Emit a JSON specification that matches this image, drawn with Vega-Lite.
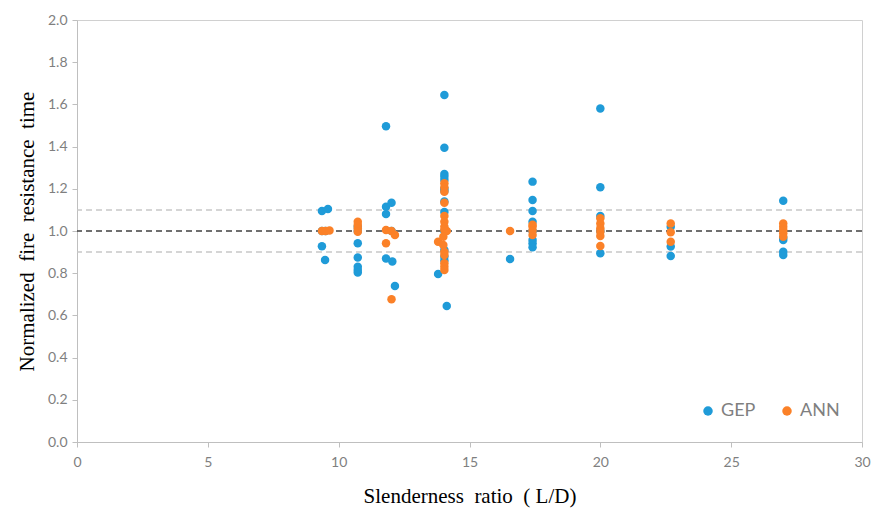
{
  "$schema": "https://vega.github.io/schema/vega-lite/v6.json",
  "width": 785,
  "height": 422,
  "autosize": {"type": "none"},
  "padding": {"left": 77, "top": 20, "right": 13, "bottom": 66},
  "background": "white",
  "config": {
    "view": {"stroke": "#d0d0d0", "strokeWidth": 1},
    "axis": {
      "grid": false,
      "domainColor": "#bfbfbf",
      "tickColor": "#bfbfbf",
      "tickSize": 5,
      "labelFont": "Lato",
      "labelFontSize": 14,
      "labelColor": "#7f7f7f",
      "labelFlush": false,
      "titleFont": "Liberation Serif",
      "titleFontSize": 21,
      "titleFontWeight": "normal",
      "titleColor": "#000000"
    }
  },
  "datasets": {
    "pts": [
      {"ld": 9.36, "ratio": 1.095, "model": "GEP"},
      {"ld": 9.59, "ratio": 1.104, "model": "GEP"},
      {"ld": 9.36, "ratio": 1.0, "model": "GEP"},
      {"ld": 9.5, "ratio": 1.0, "model": "GEP"},
      {"ld": 9.36, "ratio": 0.928, "model": "GEP"},
      {"ld": 9.48, "ratio": 0.862, "model": "GEP"},
      {"ld": 10.73, "ratio": 1.02, "model": "GEP"},
      {"ld": 10.73, "ratio": 1.0, "model": "GEP"},
      {"ld": 10.73, "ratio": 0.942, "model": "GEP"},
      {"ld": 10.73, "ratio": 0.874, "model": "GEP"},
      {"ld": 10.73, "ratio": 0.831, "model": "GEP"},
      {"ld": 10.73, "ratio": 0.815, "model": "GEP"},
      {"ld": 10.73, "ratio": 0.803, "model": "GEP"},
      {"ld": 11.81, "ratio": 1.497, "model": "GEP"},
      {"ld": 11.81, "ratio": 1.115, "model": "GEP"},
      {"ld": 11.81, "ratio": 1.08, "model": "GEP"},
      {"ld": 11.81, "ratio": 0.87, "model": "GEP"},
      {"ld": 12.02, "ratio": 1.134, "model": "GEP"},
      {"ld": 12.02, "ratio": 1.0, "model": "GEP"},
      {"ld": 12.05, "ratio": 0.855, "model": "GEP"},
      {"ld": 12.15, "ratio": 0.739, "model": "GEP"},
      {"ld": 13.8, "ratio": 0.796, "model": "GEP"},
      {"ld": 14.04, "ratio": 1.645, "model": "GEP"},
      {"ld": 14.04, "ratio": 1.395, "model": "GEP"},
      {"ld": 14.04, "ratio": 1.27, "model": "GEP"},
      {"ld": 14.04, "ratio": 1.257, "model": "GEP"},
      {"ld": 14.04, "ratio": 1.242, "model": "GEP"},
      {"ld": 14.04, "ratio": 1.2, "model": "GEP"},
      {"ld": 14.04, "ratio": 1.19, "model": "GEP"},
      {"ld": 14.04, "ratio": 1.14, "model": "GEP"},
      {"ld": 14.04, "ratio": 1.09, "model": "GEP"},
      {"ld": 14.04, "ratio": 1.0, "model": "GEP"},
      {"ld": 14.04, "ratio": 0.91, "model": "GEP"},
      {"ld": 14.04, "ratio": 0.878, "model": "GEP"},
      {"ld": 14.04, "ratio": 0.86, "model": "GEP"},
      {"ld": 14.13, "ratio": 0.645, "model": "GEP"},
      {"ld": 16.55, "ratio": 0.867, "model": "GEP"},
      {"ld": 17.41, "ratio": 1.234, "model": "GEP"},
      {"ld": 17.41, "ratio": 1.147, "model": "GEP"},
      {"ld": 17.41, "ratio": 1.095, "model": "GEP"},
      {"ld": 17.41, "ratio": 1.044, "model": "GEP"},
      {"ld": 17.41, "ratio": 1.0, "model": "GEP"},
      {"ld": 17.41, "ratio": 0.957, "model": "GEP"},
      {"ld": 17.41, "ratio": 0.942, "model": "GEP"},
      {"ld": 17.41, "ratio": 0.923, "model": "GEP"},
      {"ld": 20.0, "ratio": 1.581, "model": "GEP"},
      {"ld": 20.0, "ratio": 1.207, "model": "GEP"},
      {"ld": 20.0, "ratio": 1.071, "model": "GEP"},
      {"ld": 20.0, "ratio": 1.0, "model": "GEP"},
      {"ld": 20.0, "ratio": 0.894, "model": "GEP"},
      {"ld": 22.69, "ratio": 1.02, "model": "GEP"},
      {"ld": 22.69, "ratio": 0.926, "model": "GEP"},
      {"ld": 22.69, "ratio": 0.882, "model": "GEP"},
      {"ld": 26.99, "ratio": 1.143, "model": "GEP"},
      {"ld": 26.99, "ratio": 0.968, "model": "GEP"},
      {"ld": 26.99, "ratio": 0.957, "model": "GEP"},
      {"ld": 26.99, "ratio": 0.902, "model": "GEP"},
      {"ld": 26.99, "ratio": 0.886, "model": "GEP"},
      {"ld": 9.36, "ratio": 1.0, "model": "ANN"},
      {"ld": 9.5, "ratio": 1.0, "model": "ANN"},
      {"ld": 9.65, "ratio": 1.002, "model": "ANN"},
      {"ld": 10.73, "ratio": 1.044, "model": "ANN"},
      {"ld": 10.73, "ratio": 1.028, "model": "ANN"},
      {"ld": 10.73, "ratio": 1.013, "model": "ANN"},
      {"ld": 10.73, "ratio": 0.997, "model": "ANN"},
      {"ld": 11.81, "ratio": 1.005, "model": "ANN"},
      {"ld": 11.81, "ratio": 0.942, "model": "ANN"},
      {"ld": 12.02, "ratio": 1.0, "model": "ANN"},
      {"ld": 12.02, "ratio": 0.676, "model": "ANN"},
      {"ld": 12.15, "ratio": 0.981, "model": "ANN"},
      {"ld": 13.8, "ratio": 0.949, "model": "ANN"},
      {"ld": 14.04, "ratio": 1.226, "model": "ANN"},
      {"ld": 14.04, "ratio": 1.207, "model": "ANN"},
      {"ld": 14.04, "ratio": 1.186, "model": "ANN"},
      {"ld": 14.04, "ratio": 1.134, "model": "ANN"},
      {"ld": 14.04, "ratio": 1.071, "model": "ANN"},
      {"ld": 14.04, "ratio": 1.044, "model": "ANN"},
      {"ld": 14.04, "ratio": 1.02, "model": "ANN"},
      {"ld": 14.04, "ratio": 1.005, "model": "ANN"},
      {"ld": 14.13, "ratio": 1.0, "model": "ANN"},
      {"ld": 14.0, "ratio": 0.973, "model": "ANN"},
      {"ld": 14.0, "ratio": 0.934, "model": "ANN"},
      {"ld": 14.04, "ratio": 0.902, "model": "ANN"},
      {"ld": 14.04, "ratio": 0.886, "model": "ANN"},
      {"ld": 14.04, "ratio": 0.847, "model": "ANN"},
      {"ld": 14.04, "ratio": 0.831, "model": "ANN"},
      {"ld": 14.04, "ratio": 0.815, "model": "ANN"},
      {"ld": 16.55, "ratio": 1.0, "model": "ANN"},
      {"ld": 17.41, "ratio": 1.03, "model": "ANN"},
      {"ld": 17.41, "ratio": 1.02, "model": "ANN"},
      {"ld": 17.41, "ratio": 1.001, "model": "ANN"},
      {"ld": 17.41, "ratio": 0.981, "model": "ANN"},
      {"ld": 20.0, "ratio": 1.06, "model": "ANN"},
      {"ld": 20.0, "ratio": 1.036, "model": "ANN"},
      {"ld": 20.0, "ratio": 1.013, "model": "ANN"},
      {"ld": 20.0, "ratio": 0.997, "model": "ANN"},
      {"ld": 20.0, "ratio": 0.976, "model": "ANN"},
      {"ld": 20.0, "ratio": 0.929, "model": "ANN"},
      {"ld": 22.69, "ratio": 1.036, "model": "ANN"},
      {"ld": 22.69, "ratio": 0.994, "model": "ANN"},
      {"ld": 22.69, "ratio": 0.949, "model": "ANN"},
      {"ld": 26.99, "ratio": 1.036, "model": "ANN"},
      {"ld": 26.99, "ratio": 1.02, "model": "ANN"},
      {"ld": 26.99, "ratio": 1.005, "model": "ANN"},
      {"ld": 26.99, "ratio": 0.989, "model": "ANN"},
      {"ld": 26.99, "ratio": 0.973, "model": "ANN"}
    ],
    "bands": [{"ratio": 1.1}, {"ratio": 0.9}],
    "mid": [{"ratio": 1.0}]
  },
  "layer": [
    {
      "data": {"name": "bands"},
      "mark": {"type": "rule", "stroke": "#c8c8c8", "strokeWidth": 1.5, "strokeDash": [6, 4]},
      "encoding": {
        "y": {"field": "ratio", "type": "quantitative", "scale": {"domain": [0, 2]}}
      }
    },
    {
      "data": {"name": "mid"},
      "mark": {"type": "rule", "stroke": "#404040", "strokeWidth": 1.5, "strokeDash": [6, 4]},
      "encoding": {
        "y": {"field": "ratio", "type": "quantitative"}
      }
    },
    {
      "data": {"name": "pts"},
      "mark": {"type": "point", "shape": "circle", "filled": true, "opacity": 1, "size": 72},
      "encoding": {
        "x": {
          "field": "ld", "type": "quantitative",
          "scale": {"domain": [0, 30], "nice": false, "zero": true},
          "axis": {"values": [0, 5, 10, 15, 20, 25, 30], "title": "Slenderness\u00a0 ratio\u00a0 ( L/D)", "labelPadding": 8, "titlePadding": 16}
        },
        "y": {
          "field": "ratio", "type": "quantitative",
          "scale": {"domain": [0, 2], "nice": false},
          "axis": {"values": [0, 0.2, 0.4, 0.6, 0.8, 1.0, 1.2, 1.4, 1.6, 1.8, 2.0], "format": ".1f", "title": "Normalized\u00a0 fire\u00a0 resistance\u00a0 time", "labelPadding": 5, "titlePadding": 10}
        },
        "color": {
          "field": "model", "type": "nominal",
          "scale": {"domain": ["GEP", "ANN"], "range": ["#1f9bd8", "#fb8128"]},
          "legend": {
            "title": null,
            "orient": "none",
            "legendX": 622,
            "legendY": 382,
            "direction": "horizontal",
            "symbolType": "circle",
            "symbolSize": 90,
            "labelFont": "Lato",
            "labelFontSize": 18,
            "labelColor": "#7f7f7f",
            "columnPadding": 22,
            "symbolOffset": 0
          }
        }
      }
    }
  ]
}
